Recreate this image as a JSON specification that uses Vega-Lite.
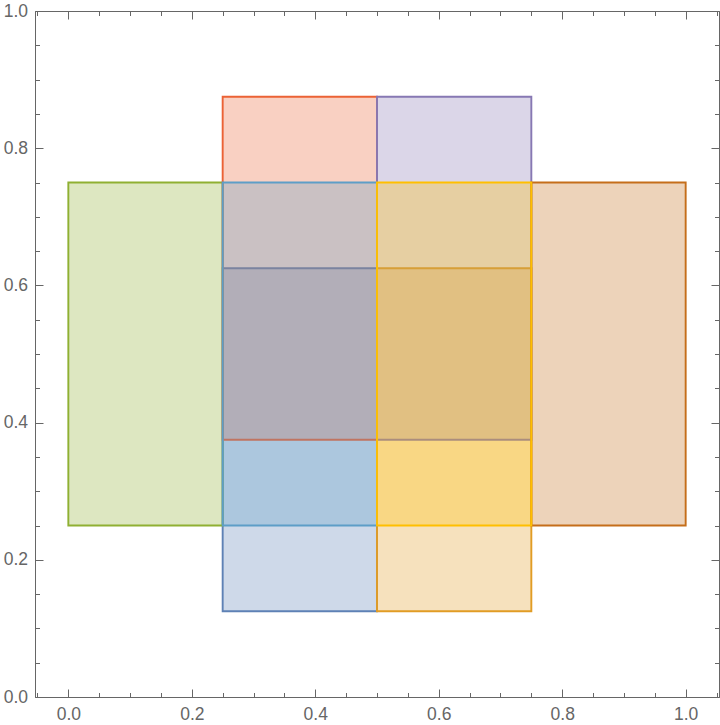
{
  "$schema": "https://vega.github.io/schema/vega-lite/v6.json",
  "autosize": {"type": "none"},
  "padding": {"left": 35, "top": 11, "right": 1, "bottom": 28},
  "width": 684,
  "height": 686,
  "background": "white",
  "data": {
    "values": [
      {"name": "A", "x1": 0.25, "x2": 0.5, "y1": 0.125, "y2": 0.625},
      {"name": "B", "x1": 0.5, "x2": 0.75, "y1": 0.125, "y2": 0.625},
      {"name": "C", "x1": 0.0, "x2": 0.25, "y1": 0.25, "y2": 0.75},
      {"name": "D", "x1": 0.25, "x2": 0.5, "y1": 0.375, "y2": 0.875},
      {"name": "E", "x1": 0.5, "x2": 0.75, "y1": 0.375, "y2": 0.875},
      {"name": "F", "x1": 0.75, "x2": 1.0, "y1": 0.25, "y2": 0.75},
      {"name": "G", "x1": 0.25, "x2": 0.5, "y1": 0.25, "y2": 0.75},
      {"name": "H", "x1": 0.5, "x2": 0.75, "y1": 0.25, "y2": 0.75}
    ]
  },
  "config": {
    "view": {"stroke": null},
    "axis": {
      "grid": false,
      "title": null,
      "domainColor": "#666666",
      "domainWidth": 1,
      "tickColor": "#666666",
      "tickWidth": 1,
      "labelFont": "Liberation Sans",
      "labelFontSize": 17.5,
      "labelColor": "#666666"
    }
  },
  "layer": [
    {
      "mark": {"type": "rect", "fillOpacity": 0.3, "strokeWidth": 1.9},
      "encoding": {
        "x": {"field": "x1", "type": "quantitative", "scale": {"domain": [-0.054, 1.054], "nice": false, "zero": false},
              "axis": {"orient": "bottom", "values": [0, 0.2, 0.4, 0.6, 0.8, 1.0], "format": ".1f", "tickSize": -8, "labelPadding": 16, "labelFlush": false, "labelOverlap": false}},
        "x2": {"field": "x2"},
        "y": {"field": "y1", "type": "quantitative", "scale": {"domain": [0, 1], "nice": false, "zero": false},
              "axis": {"orient": "left", "values": [0, 0.2, 0.4, 0.6, 0.8, 1.0], "format": ".1f", "tickSize": -8, "labelPadding": 15.5, "labelFlush": false, "labelOverlap": false}},
        "y2": {"field": "y2"},
        "fill": {"field": "name", "type": "nominal", "legend": null,
                 "scale": {"domain": ["A","B","C","D","E","F","G","H"], "range": ["#5E81B5","#E19C24","#8FB032","#EB6235","#8778B3","#C56E1A","#5D9EC7","#FFBF00"]}},
        "stroke": {"field": "name", "type": "nominal", "legend": null,
                 "scale": {"domain": ["A","B","C","D","E","F","G","H"], "range": ["#5E81B5","#E19C24","#8FB032","#EB6235","#8778B3","#C56E1A","#5D9EC7","#FFBF00"]}}
      }
    },
    {
      "mark": {"type": "rect", "opacity": 0},
      "encoding": {
        "x": {"field": "x1", "type": "quantitative", "scale": {"domain": [-0.054, 1.054], "nice": false, "zero": false},
              "axis": {"orient": "bottom", "values": [-0.05,0,0.05,0.1,0.15,0.2,0.25,0.3,0.35,0.4,0.45,0.5,0.55,0.6,0.65,0.7,0.75,0.8,0.85,0.9,0.95,1.0,1.05], "labels": false, "domain": false, "tickSize": -4.5}},
        "x2": {"field": "x2"},
        "y": {"field": "y1", "type": "quantitative", "scale": {"domain": [0, 1], "nice": false, "zero": false},
              "axis": {"orient": "left", "values": [0,0.05,0.1,0.15,0.2,0.25,0.3,0.35,0.4,0.45,0.5,0.55,0.6,0.65,0.7,0.75,0.8,0.85,0.9,0.95,1.0], "labels": false, "domain": false, "tickSize": -4.5}},
        "y2": {"field": "y2"}
      }
    },
    {
      "mark": {"type": "rect", "opacity": 0},
      "encoding": {
        "x": {"field": "x1", "type": "quantitative", "scale": {"domain": [-0.054, 1.054], "nice": false, "zero": false},
              "axis": {"orient": "top", "values": [0, 0.2, 0.4, 0.6, 0.8, 1.0], "labels": false, "tickSize": -8}},
        "x2": {"field": "x2"},
        "y": {"field": "y1", "type": "quantitative", "scale": {"domain": [0, 1], "nice": false, "zero": false},
              "axis": {"orient": "right", "values": [0, 0.2, 0.4, 0.6, 0.8, 1.0], "labels": false, "tickSize": -8}},
        "y2": {"field": "y2"}
      }
    },
    {
      "mark": {"type": "rect", "opacity": 0},
      "encoding": {
        "x": {"field": "x1", "type": "quantitative", "scale": {"domain": [-0.054, 1.054], "nice": false, "zero": false},
              "axis": {"orient": "top", "values": [-0.05,0,0.05,0.1,0.15,0.2,0.25,0.3,0.35,0.4,0.45,0.5,0.55,0.6,0.65,0.7,0.75,0.8,0.85,0.9,0.95,1.0,1.05], "labels": false, "domain": false, "tickSize": -4.5}},
        "x2": {"field": "x2"},
        "y": {"field": "y1", "type": "quantitative", "scale": {"domain": [0, 1], "nice": false, "zero": false},
              "axis": {"orient": "right", "values": [0,0.05,0.1,0.15,0.2,0.25,0.3,0.35,0.4,0.45,0.5,0.55,0.6,0.65,0.7,0.75,0.8,0.85,0.9,0.95,1.0], "labels": false, "domain": false, "tickSize": -4.5}},
        "y2": {"field": "y2"}
      }
    }
  ],
  "resolve": {"axis": {"x": "independent", "y": "independent"}}
}
